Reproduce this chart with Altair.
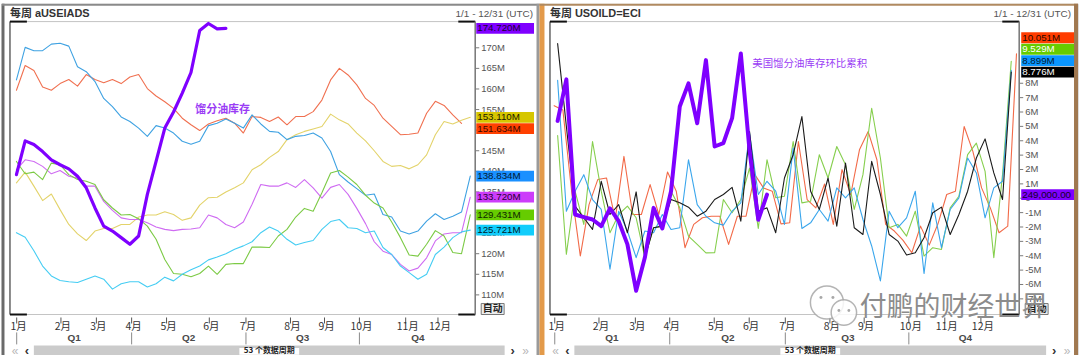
import altair as alt
import pandas as pd

# ------------------------------------------------------------------ data
MONTHS = ["1月", "2月", "3月", "4月", "5月", "6月", "7月", "8月", "9月", "10月", "11月", "12月"]
QUARTERS = ["Q1", "Q2", "Q3", "Q4"]

# left panel (weekly distillate stocks, M barrels), week index 0..52
L_RED = [159.7, 165.7, 164.5, 160.5, 159.7, 161.3, 162.3, 160.7, 163.5, 162.3, 161.5, 162.3, 161.3, 162.9,
         163.5, 160.1, 158.3, 156.9, 155.3, 152.9, 151.3, 149.9, 151.5, 152.3, 152.9, 151.7, 149.3, 153.3,
         153.1, 152.1, 153.2, 151.3, 153.3, 153.3, 154.5, 157.3, 162.2, 165.0, 163.4, 161.0, 157.7, 156.0,
         152.9, 150.9, 148.9, 149.0, 149.3, 154.1, 157.0, 156.0, 153.7, 151.634]
L_YELLOW = [137.2, 139.8, 136.4, 132.9, 134.5, 130.7, 127.1, 124.8, 123.2, 125.5, 126.1, 126.1, 127.1, 127.1,
            128.9, 129.4, 129.4, 130.2, 129.5, 128.1, 128.7, 131.8, 133.6, 133.7, 135.0, 136.0, 137.2, 140.4,
            141.6, 143.4, 144.8, 147.7, 148.9, 149.7, 150.3, 150.9, 153.9, 152.5, 151.5, 149.3, 147.4, 145.0,
            142.4, 141.2, 141.4, 140.6, 141.6, 144.0, 148.9, 152.1, 151.5, 152.4, 153.11]
L_BLUE = [162.2, 170.1, 169.3, 169.3, 170.9, 171.1, 170.4, 165.4, 164.2, 161.8, 157.7, 155.7, 153.2, 152.1,
          150.5, 148.5, 151.1, 150.5, 149.3, 147.3, 146.6, 147.3, 151.1, 151.7, 152.7, 151.7, 150.5, 153.7,
          151.5, 149.7, 149.5, 147.7, 148.5, 148.7, 149.3, 148.1, 144.8, 139.2, 137.4, 135.8, 134.2, 134.5,
          129.5, 128.9, 125.5, 124.8, 125.5, 127.9, 129.7, 128.3, 129.1, 130.1, 138.834]
L_MAGENTA = [140.4, 142.8, 142.4, 141.2, 139.4, 140.2, 138.8, 138.4, 136.4, 136.4, 132.7, 130.5, 128.7, 128.3,
             128.3, 127.5, 126.5, 125.9, 125.6, 125.9, 126.0, 126.3, 129.4, 128.7, 127.1, 126.3, 127.7, 132.0,
             136.8, 136.4, 136.4, 137.2, 136.1, 138.0, 136.0, 133.5, 136.1, 136.8, 134.4, 131.0, 127.3, 122.9,
             120.6, 119.8, 117.4, 115.8, 116.5, 119.0, 123.1, 124.8, 125.1, 125.1, 133.72]
L_GREEN = [142.4, 139.4, 139.8, 138.0, 142.0, 141.6, 139.2, 138.0, 137.6, 136.8, 133.1, 131.1, 129.4, 129.5,
           128.5, 126.7, 123.5, 118.6, 115.2, 115.0, 114.4, 115.2, 117.0, 115.0, 117.4, 117.6, 117.6, 121.6,
           121.6, 121.5, 124.3, 125.9, 128.9, 131.0, 130.3, 134.8, 139.6, 140.2, 138.6, 136.8, 134.2, 132.3,
           131.1, 127.7, 123.9, 119.7, 119.4, 122.3, 125.6, 124.3, 120.3, 120.0, 129.431]
L_CYAN = [125.1, 124.0, 120.7, 117.0, 114.6, 113.5, 113.2, 113.0, 113.8, 114.6, 113.8, 111.4, 112.7, 113.2,
          113.2, 111.9, 112.7, 114.3, 113.4, 115.0, 116.1, 117.0, 118.5, 119.2, 120.0, 121.1, 121.9, 122.9,
          125.1, 126.5, 125.5, 123.5, 122.1, 122.7, 123.2, 125.9, 127.8, 128.3, 126.3, 126.1, 125.1, 125.5,
          121.5, 119.8, 117.0, 115.4, 113.8, 115.0, 119.8, 121.6, 123.9, 125.3, 125.721]
L_PURPLE = [139.2, 147.4, 146.5, 144.8, 142.8, 141.6, 140.6, 138.8, 136.0, 131.1, 126.7, 125.5, 123.9, 122.3,
            124.3, 134.4, 142.4, 150.5, 154.4, 159.0, 164.0, 174.2, 175.9, 174.6, 174.72]

# right panel (weekly change, M barrels)
R_RED = [6.44, 6.14, 0.5, -4.02, -0.44, 1.30, 1.41, -1.48, 2.91, -1.13, -1.13, 0.95, -1.13, 1.83, 0.49,
         -3.44, -1.82, -1.36, -1.25, -1.25, -3.21, -1.25, -1.25, 1.64, 0.72, 0.49, -1.78, -1.71, 3.95, -0.09,
         -0.67, 0.99, -1.82, 1.99, 0.26, 3.37, 4.64, 2.68, -1.82, -2.28, -2.93, -3.79, -1.94, -3.26, -1.78,
         0.26, 0.49, 4.99, 3.26, 0.72, -0.67, -2.40, -1.94, 10.051]
R_GREEN = [4.37, -3.90, 0.49, -1.82, 3.95, 0.49, -2.40, -1.13, -0.55, -1.36, -4.13, -2.05, -1.94, 0.49, -0.67,
           -2.63, -3.21, -3.80, -3.79, -0.09, -1.01, -0.09, 2.10, -2.10, 2.68, 0.03, 0.14, 3.95, -0.32, -0.21,
           3.03, 1.41, 3.60, 2.33, -0.78, 1.64, 6.26, 2.80, -2.05, -1.82, -2.63, -0.90, -4.02, -3.44, -3.56,
           -0.67, 0.14, 3.03, 3.83, 1.87, -4.13, 1.64, 9.529]
R_BLUE = [8.2, -0.90, 0.49, 1.64, -0.09, -0.78, -4.94, -0.90, -2.28, -4.13, -2.28, -2.40, -1.13, -2.17, -2.05,
          2.68, -0.44, -1.25, -1.71, -1.87, -0.90, -0.32, 4.53, 0.26, 1.18, 0.49, -1.82, 3.49, -2.10, -1.71,
          -0.78, -1.59, 0.72, 0.03, 0.72, -1.48, -3.32, -5.75, -0.90, -2.05, -1.36, 0.49, -5.24, -0.32, -3.44,
          -0.78, 0.03, 2.80, 1.76, -1.36, 0.72, 1.18, 8.899]
R_BLACK = [10.76, 5.0, -0.55, -1.36, -2.17, 1.18, -1.13, -0.44, -2.40, 0.44, -4.13, -2.05, -1.94, -0.09, -0.32,
           -0.62, -1.25, -0.90, -0.09, 0.26, 0.76, -1.59, 4.64, -0.90, -0.67, -2.40, 1.41, 3.03, 5.68, 0.49,
           -0.78, 1.41, -1.94, 2.45, -2.05, -2.52, 2.57, 0.26, -2.52, -2.98, -3.95, -3.79, -2.75, -1.01, -0.62,
           -2.52, -1.13, 0.49, 2.80, 4.13, 1.76, -0.09, 8.776]
R_PURPLE = [5.38, 8.27, -1.13, -1.31, -1.48, -1.94, -0.71, -1.59, -3.21, -6.44, -4.13, -0.67, -2.10, 0.49,
            6.38, 7.99, 5.22, 9.61, 3.60, 3.83, 5.57, 10.07, 3.3, -1.5, 0.249]

# month / quarter tick positions (in week units of each panel)
L_MONTH_AT = [0.03, 5.1, 9.16, 13.2, 17.2, 22.1, 26.3, 31.4, 35.3, 39.3, 44.6, 48.3]
R_MONTH_AT = [-0.33, 4.74, 8.91, 12.85, 17.95, 21.96, 26.1, 31.21, 35.14, 40.26, 44.38, 48.52]
L_Q_AT = [6.62, 19.74, 32.8, 45.99]
R_Q_AT = [6.23, 19.53, 33.26, 46.75]
L_YTICKS = list(range(110, 171, 5))
R_YTICKS = list(range(-7, 9))

FONT = "'Liberation Sans', 'Noto Sans CJK SC'"
CJK = "'Noto Sans CJK SC'"


# ------------------------------------------------------------------ helpers
def one():
    return pd.DataFrame({"k": [0]})


def rect(x0, x1, y0, y1, fill, stroke=None, sw=1.0, opacity=1.0):
    kw = dict(fill=fill, opacity=opacity)
    if stroke:
        kw.update(stroke=stroke, strokeWidth=sw)
    else:
        kw.update(strokeWidth=0)
    return alt.Chart(one()).mark_rect(**kw).encode(
        x=alt.value(x0), x2=alt.value(x1), y=alt.value(y0), y2=alt.value(y1))


def hline(x0, x1, y, color, w=1.0):
    return alt.Chart(one()).mark_rule(color=color, strokeWidth=w).encode(
        x=alt.value(x0), x2=alt.value(x1), y=alt.value(y))


def vline(x, y0, y1, color, w=1.0):
    return alt.Chart(one()).mark_rule(color=color, strokeWidth=w).encode(
        x=alt.value(x), y=alt.value(y0), y2=alt.value(y1))


def text(x, y, s, size=10, color="#333333", weight="normal", align="left", font=FONT):
    return alt.Chart(one()).mark_text(text=s, fontSize=size, color=color, fontWeight=weight,
                                      align=align, baseline="middle", font=font).encode(
        x=alt.value(x), y=alt.value(y))


def dot(x, y, size, fill, stroke=None, sw=1.0, opacity=1.0):
    kw = dict(shape="circle", filled=True, fill=fill, opacity=opacity, size=size)
    if stroke:
        kw.update(stroke=stroke, strokeWidth=sw)
    else:
        kw.update(strokeWidth=0)
    return alt.Chart(one()).mark_point(**kw).encode(x=alt.value(x), y=alt.value(y))


def line(values, color, width, xs, ys, x0=0.0):
    df = pd.DataFrame({"w": [x0 + i for i in range(len(values))], "v": values})
    return alt.Chart(df).mark_line(color=color, strokeWidth=width, strokeJoin="round",
                                   strokeCap="round").encode(
        x=alt.X("w:Q", scale=xs, axis=None), y=alt.Y("v:Q", scale=ys, axis=None))


def fmt_value(v):
    if abs(v) >= 1:
        return f"{v:.3f}M"
    return f"{v * 1e6:,.2f}"


def place_boxes(items, ppu, h, direction):
    """items: list of (value, fill, textcolor). Avoid overlapping value boxes."""
    gap = h / ppu
    out = []
    if direction == "down":
        order = sorted(items, key=lambda t: -t[0])
        prev = None
        for v, f, tc in order:
            pos = v if prev is None else min(v, prev - gap)
            out.append((pos, f, tc, fmt_value(v)))
            prev = pos
    else:
        order = sorted(items, key=lambda t: t[0])
        prev = None
        for v, f, tc in order:
            pos = v if prev is None else max(v, prev + gap)
            out.append((pos, f, tc, fmt_value(v)))
            prev = pos
    return pd.DataFrame(out, columns=["pos", "fill", "tc", "txt"])


def panel(cfg):
    xs = alt.Scale(domain=cfg["xdom"], range=cfg["xrange"], zero=False, nice=False)
    ys = alt.Scale(domain=cfg["ydom"], range=cfg["yrange"], zero=False, nice=False)
    px0, px1, py0, py1 = cfg["plot"]
    L = []
    # panel background & frame
    L.append(rect(0, cfg["W"], 0, 355, "#ffffff"))
    L.append(rect(px0, px1, py0, py1, "#ffffff", stroke="#c4c4c4", sw=1))
    L.append(vline(px0, py0, py1, "#6e6e6e", 1.5))
    for (a, b, y) in [(px0, px0 + 17, py0), (px1 - 17, px1, py0), (px0, px0 + 17, py1), (px1 - 17, px1, py1)]:
        L.append(hline(a, b, y, "#111111", 2))
    # header
    L.append(text(px0, 10, cfg["title"], size=11, color="#333333", weight="bold"))
    L.append(text(cfg["W"] - 7, 10, "1/1 - 12/31 (UTC)", size=10, color="#555555", align="right"))

    # y axis on the right
    L.append(vline(px1, py0, py1, "#7a7a7a", 1.5))
    tick_df = pd.DataFrame({"t": cfg["yticks"], "lab": [cfg["ylab"](t) for t in cfg["yticks"]]})
    L.append(alt.Chart(tick_df).mark_rule(color="#7a7a7a", strokeWidth=1).encode(
        x=alt.value(px1), x2=alt.value(px1 + 4), y=alt.Y("t:Q", scale=ys, axis=None)))
    L.append(alt.Chart(tick_df).mark_text(align="left", baseline="middle", fontSize=9.5, color="#555555",
                                          font=FONT).encode(
        x=alt.value(px1 + 6), y=alt.Y("t:Q", scale=ys, axis=None), text="lab:N"))

    # x axis: months + quarters
    mdf = pd.DataFrame({"at": cfg["month_at"], "m": MONTHS})
    L.append(alt.Chart(mdf).mark_rule(color="#555555", strokeWidth=1).encode(
        x=alt.X("at:Q", scale=xs, axis=None), y=alt.value(py1 + 3), y2=alt.value(py1 + 9)))
    L.append(alt.Chart(mdf).mark_text(align="center", baseline="middle", fontSize=10.5, color="#333333",
                                      dx=2, font=CJK).encode(
        x=alt.X("at:Q", scale=xs, axis=None), y=alt.value(py1 + 13), text="m:N"))
    qsep = pd.DataFrame({"at": [cfg["month_at"][i] for i in (0, 3, 6, 9)]})
    L.append(alt.Chart(qsep).mark_rule(color="#8a8a8a", strokeWidth=1).encode(
        x=alt.X("at:Q", scale=xs, axis=None), y=alt.value(py1 + 18), y2=alt.value(py1 + 30)))
    qdf = pd.DataFrame({"at": cfg["q_at"], "q": QUARTERS})
    L.append(alt.Chart(qdf).mark_text(align="center", baseline="middle", fontSize=10, fontWeight="bold",
                                      color="#4a4a4a", font=FONT).encode(
        x=alt.X("at:Q", scale=xs, axis=None), y=alt.value(py1 + 24), text="q:N"))

    # scrollbar
    sb0, sb1 = cfg["scroll"]
    L.append(rect(sb0, sb1, 343, 354, "#cbcbcb"))
    mid = (sb0 + sb1) / 2
    L.append(rect(mid - 30, mid + 30, 345.5, 352.5, "#ffffff"))
    L.append(text(mid, 349, "53 个数据周期", size=8, color="#222222", weight="bold", align="center", font=CJK))
    L.append(text(sb0 - 19, 348.5, "«", size=12, color="#b8b8b8", align="center"))
    L.append(text(sb0 - 7, 348.5, "‹", size=13, color="#333333", weight="bold", align="center"))
    L.append(text(sb1 + 8, 348.5, "›", size=13, color="#333333", weight="bold", align="center"))
    L.append(text(sb1 + 21, 348.5, "»", size=12, color="#b8b8b8", align="center"))

    # data lines
    for vals, col, wdt, x0 in cfg["series"]:
        L.append(line(vals, col, wdt, xs, ys, x0))

    # annotation
    ax, ay, atxt, asz, aw = cfg["annot"]
    L.append(text(ax, ay, atxt, size=asz, color="#9a3cf5", weight=aw, font=CJK))

    # auto button
    L.append(rect(px1 + 6, px1 + 29, 301, 312, "#ececec", stroke="#777777", sw=1))
    L.append(text(px1 + 17.5, 306.5, "自动", size=10, color="#222222", weight="bold", align="center", font=CJK))

    # value boxes
    bdf = place_boxes(cfg["boxes"], cfg["ppu"], cfg["boxh"], cfg["boxdir"])
    bx0, bx1 = cfg["boxx"]
    half = cfg["boxh"] / 2 - 0.3
    L.append(alt.Chart(bdf).mark_rect(yOffset=-half, y2Offset=half, strokeWidth=0).encode(
        x=alt.value(bx0), x2=alt.value(bx1), y=alt.Y("pos:Q", scale=ys, axis=None), y2="pos:Q",
        color=alt.Color("fill:N", scale=None)))
    L.append(alt.Chart(bdf).mark_text(align="left", baseline="middle", fontSize=9.8, font=FONT).encode(
        x=alt.value(bx0 + 1), y=alt.Y("pos:Q", scale=ys, axis=None), text="txt:N",
        color=alt.Color("tc:N", scale=None)))

    L.extend(cfg.get("extra", []))
    return alt.layer(*L).properties(width=cfg["W"], height=355)


# ------------------------------------------------------------------ panels
left_cfg = dict(
    W=540, plot=(8, 475, 18, 312), title="每周 aUSEIADS",
    xdom=[0, 52], xrange=[14.5, 470], ydom=[110, 170], yrange=[292.3, 44.3],
    yticks=L_YTICKS, ylab=lambda t: f"{t}M",
    month_at=L_MONTH_AT, q_at=L_Q_AT, scroll=(32, 504.5),
    series=[(L_RED, "#f07050", 1.1, 0), (L_YELLOW, "#e3d36a", 1.1, 0), (L_BLUE, "#3fa2e2", 1.1, 0),
            (L_MAGENTA, "#cf6cf2", 1.1, 0), (L_GREEN, "#7cca45", 1.1, 0), (L_CYAN, "#45cdf3", 1.1, 0),
            (L_PURPLE, "#7f00ff", 3.2, 0)],
    annot=(194, 107, "馏分油库存", 11, "bold"),
    boxes=[(L_PURPLE[-1], "#8000ff", "#1a0033"), (L_YELLOW[-1], "#d6c600", "#1a1a00"),
           (L_RED[-1], "#ff4000", "#3a0a00"), (L_BLUE[-1], "#1a90ff", "#001a33"),
           (L_MAGENTA[-1], "#cc3dfa", "#2a0033"), (L_GREEN[-1], "#66cc00", "#0f2600"),
           (L_CYAN[-1], "#12cdfb", "#00202a")],
    ppu=4.133, boxh=11.3, boxdir="down", boxx=(476, 534),
    extra=[vline(1, 0, 355, "#6a6a6a", 3), hline(0, 540, 1, "#8a8a8a", 2), vline(538, 0, 355, "#9a9a9a", 3)],
)

right_cfg = dict(
    W=540, plot=(10, 481, 18, 312), title="每周 USOILD=ECI",
    xdom=[0, 52], xrange=[17.7, 473], ydom=[-7, 8], yrange=[296.3, 79.9],
    yticks=R_YTICKS, ylab=lambda t: f"{t}M" if t != 0 else "0",
    month_at=R_MONTH_AT, q_at=R_Q_AT, scroll=(34.5, 508),
    series=[(R_RED, "#f26a48", 1.1, -0.4), (R_GREEN, "#86cf4e", 1.1, 0), (R_BLUE, "#3aa6ec", 1.1, 0),
            (R_BLACK, "#1a1a1a", 1.1, 0), (R_PURPLE, "#7f00ff", 4, 0)],
    annot=(213, 61, "美国馏分油库存环比累积", 10.5, "normal"),
    boxes=[(R_RED[-1], "#ff3c00", "#2a0800"), (R_GREEN[-1], "#66cc00", "#ffffff"),
           (R_BLUE[-1], "#0a96ff", "#001a33"), (R_BLACK[-1], "#000000", "#ffffff"),
           (R_PURPLE[-1], "#8000ff", "#12002a")],
    ppu=14.43, boxh=11.5, boxdir="up", boxx=(483, 537),
    extra=[
        dot(288, 300, 1100, "#ffffff", stroke="#a8a8a8", sw=1.5, opacity=0.85),
        dot(305, 310, 650, "#ffffff", stroke="#a8a8a8", sw=1.5, opacity=0.85),
        dot(282, 295, 9, "#a8a8a8"), dot(294, 295, 9, "#a8a8a8"),
        dot(300, 308, 8, "#a8a8a8"), dot(310, 308, 8, "#a8a8a8"),
        text(321, 306, "付鹏的财经世界", size=27, color="#8c8c8c", font=CJK),
        vline(2, 0, 355, "#e39a4a", 5), hline(0, 540, 1, "#b08a60", 2), vline(538, 0, 355, "#a07850", 4),
    ],
)

left = panel(left_cfg)
right = panel(right_cfg)

chart = alt.hconcat(left, right, spacing=0, padding=0, bounds="flush").resolve_scale(
    x="independent", y="independent"
).configure_view(stroke=None).configure(background="#ffffff")

chart.save("out.html", embed_options={"renderer": "svg", "actions": False})
